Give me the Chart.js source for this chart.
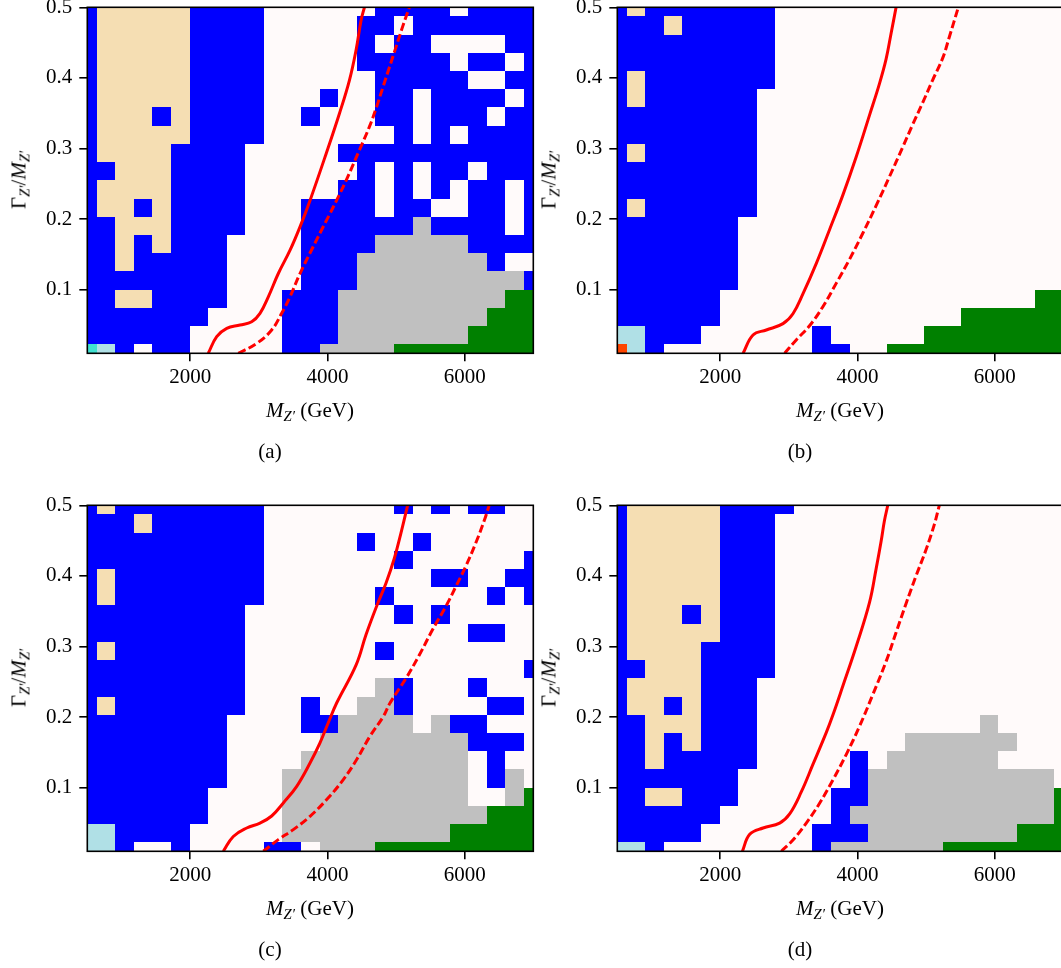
<!DOCTYPE html>
<html>
<head>
<meta charset="utf-8">
<script src="https://cdn.jsdelivr.net/npm/chart.js@4.4.0/dist/chart.umd.min.js"></script>
<style>
html, body { margin:0; padding:0; background:#fff; overflow:hidden; }
body { width:1061px; height:968px; position:relative; font-family:'Liberation Serif', serif; }
canvas { position:absolute; }
.lbl { position:absolute; font-size:21px; line-height:1; color:#000; white-space:nowrap; transform:translate(-50%,-50%); }
.lbl sub { font-size:70%; vertical-align:-0.3em; line-height:0; }
.yl { transform:translate(-50%,-50%) rotate(-90deg); }
</style>
</head>
<body>
<script>
// grid of the scan: Z' mass (GeV) and width/mass
var massGrid = [500, 770.83, 1041.67, 1312.5, 1583.33, 1854.17, 2125, 2395.83, 2666.67, 2937.5,
  3208.33, 3479.17, 3750, 4020.83, 4291.67, 4562.5, 4833.33, 5104.17, 5375, 5645.83,
  5916.67, 6187.5, 6458.33, 6729.17, 7000];
var widthGrid = [0.01, 0.03579, 0.06158, 0.08737, 0.11316, 0.13895, 0.16474, 0.19053, 0.21632, 0.24211,
  0.26789, 0.29368, 0.31947, 0.34526, 0.37105, 0.39684, 0.42263, 0.44842, 0.47421, 0.5];
var massTicks = [2000, 4000, 6000];
var widthTicks = [0.1, 0.2, 0.3, 0.4, 0.5];

// category of each cell, rows from top (0.5) to bottom (0.01)
var palette = {B:'#0000ff', T:'#f5deb3', W:'#fffafa', G:'#c0c0c0', N:'#008000', L:'#b0e0e6', Q:'#40e0d0', R:'#ff4500'};

var gridA = [
  "BTTTTTBBBBWWWWWWBBBBWBBBB",
  "BTTTTTBBBBWWWWWBBWBBBBBBB",
  "BTTTTTBBBBWWWWWBWBBWWWWBB",
  "BTTTTTBBBBWWWWWBBBBBWBBWB",
  "BTTTTTBBBBWWWWWWBBBBBWWBB",
  "BTTTTTBBBBWWWBWWBBWBBBBWB",
  "BTTTBTBBBBWWBWWWBBWBBBWBB",
  "BTTTTTBBBBWWWWWWWBWBWBBBB",
  "BTTTTBBBBWWWWWBBBBBBBBBBB",
  "BBTTTBBBBWWWWWWBWBWBBWBBB",
  "BTTTTBBBBWWWWWBBWBWBWBBWB",
  "BTTBTBBBBWWWBBBBWBBWWBBWB",
  "BBTTTBBBBWWWBBBBBBGBBBBWB",
  "BBTBTBBBWWWWBBBBGGGGGBBBB",
  "BBTBBBBBWWWWBBBGGGGGGGBWW",
  "BBBBBBBBWWWWBBBGGGGGGGGGB",
  "BBTTBBBBWWWBBBGGGGGGGGGNN",
  "BBBBBBBWWWWBBBGGGGGGGGNNN",
  "BBBBBBWWWWWBBBGGGGGGGNNNN",
  "QLBWBBWWWWWBBGGGGNNNNNNNN"
];
var gridB = [
  "BTBBBBBBBWWWWWWWWWWWWWWWW",
  "BBBTBBBBBWWWWWWWWWWWWWWWW",
  "BBBBBBBBBWWWWWWWWWWWWWWWW",
  "BBBBBBBBBWWWWWWWWWWWWWWWW",
  "BTBBBBBBBWWWWWWWWWWWWWWWW",
  "BTBBBBBBWWWWWWWWWWWWWWWWW",
  "BBBBBBBBWWWWWWWWWWWWWWWWW",
  "BBBBBBBBWWWWWWWWWWWWWWWWW",
  "BTBBBBBBWWWWWWWWWWWWWWWWW",
  "BBBBBBBBWWWWWWWWWWWWWWWWW",
  "BBBBBBBBWWWWWWWWWWWWWWWWW",
  "BTBBBBBBWWWWWWWWWWWWWWWWW",
  "BBBBBBBWWWWWWWWWWWWWWWWWW",
  "BBBBBBBWWWWWWWWWWWWWWWWWW",
  "BBBBBBBWWWWWWWWWWWWWWWWWW",
  "BBBBBBBWWWWWWWWWWWWWWWWWW",
  "BBBBBBWWWWWWWWWWWWWWWWWNN",
  "BBBBBBWWWWWWWWWWWWWNNNNNN",
  "LLBBBWWWWWWBWWWWWNNNNNNNN",
  "RLBWWWWWWWWBBWWNNNNNNNNNN"
];
var gridC = [
  "BTBBBBBBBBWWWWWWWBWBWBBWW",
  "BBBTBBBBBBWWWWWWWWWWWWWWW",
  "BBBBBBBBBBWWWWWBWWBWWWWWW",
  "BBBBBBBBBBWWWWWWWBWWWWWWB",
  "BTBBBBBBBBWWWWWWWWWBBWWBB",
  "BTBBBBBBBBWWWWWWBWWWWWBWB",
  "BBBBBBBBBWWWWWWWWBWBWWWWW",
  "BBBBBBBBBWWWWWWWWWWWWBBWW",
  "BTBBBBBBBWWWWWWWBWWWWWWWW",
  "BBBBBBBBBWWWWWWWWWWWWWWWB",
  "BBBBBBBBBWWWWWWWGBWWWBWWW",
  "BTBBBBBBBWWWBWWGGBWWWWBBW",
  "BBBBBBBBWWWWBBGGGGWGBBWWW",
  "BBBBBBBBWWWWWGGGGGGGGBBBW",
  "BBBBBBBBWWWWGGGGGGGGGWBWW",
  "BBBBBBBBWWWGGGGGGGGGGWBGW",
  "BBBBBBBWWWWGGGGGGGGGGWWGN",
  "BBBBBBBWWWWGGGGGGGGGGGNNN",
  "LLBBBBWWWWWGGGGGGGGGNNNNN",
  "LLBWWBWWWWBBWGGGNNNNNNNNN"
];
var gridD = [
  "BTTTTTBBBBWWWWWWWWWWWWWWW",
  "BTTTTTBBBWWWWWWWWWWWWWWWW",
  "BTTTTTBBBWWWWWWWWWWWWWWWW",
  "BTTTTTBBBWWWWWWWWWWWWWWWW",
  "BTTTTTBBBWWWWWWWWWWWWWWWW",
  "BTTTTTBBBWWWWWWWWWWWWWWWW",
  "BTTTBTBBBWWWWWWWWWWWWWWWW",
  "BTTTTTBBBWWWWWWWWWWWWWWWW",
  "BTTTTBBBBWWWWWWWWWWWWWWWW",
  "BBTTTBBBBWWWWWWWWWWWWWWWW",
  "BTTTTBBBWWWWWWWWWWWWWWWWW",
  "BTTBTBBBWWWWWWWWWWWWWWWWW",
  "BBTTTBBBWWWWWWWWWWWWGWWWW",
  "BBTBTBBBWWWWWWWWGGGGGGWWW",
  "BBTBBBBBWWWWWBWGGGGGGWWWW",
  "BBBBBBBWWWWWWBGGGGGGGGGGW",
  "BBTTBBBWWWWWBBGGGGGGGGGGN",
  "BBBBBBWWWWWWBGGGGGGGGGGGN",
  "BBBBBWWWWWWBBBGGGGGGGGNNN",
  "LLBWWWWWWWWBGGGGGGNNNNNNN"
];

// exclusion contours [mass, width/mass]
var solidA = [[2263,0.01],[2386,0.0335],[2532,0.0454],[2726,0.05],[2896,0.0547],[3017,0.0666],[3138,0.09],[3284,0.123],[3455,0.156],[3600,0.189],[3746,0.2265],[3982,0.293],[4176,0.35],[4321,0.397],[4418,0.44],[4491,0.482],[4539,0.5]];
var dashedA = [[2701,0.01],[2969,0.024],[3187,0.043],[3333,0.0666],[3454,0.09],[3600,0.123],[3746,0.152],[3916,0.185],[4037,0.208],[4135,0.227],[4273,0.255],[4467,0.298],[4612,0.331],[4709,0.357],[4806,0.386],[4903,0.415],[5000,0.444],[5097,0.473],[5194,0.5]];
var solidB = [[2333,0.01],[2478,0.036],[2672,0.043],[2915,0.052],[3060,0.066],[3205,0.094],[3399,0.137],[3593,0.185],[3787,0.234],[3981,0.288],[4175,0.347],[4321,0.392],[4418,0.427],[4490,0.463],[4563,0.5]];
var dashedB = [[2939,0.01],[3108,0.029],[3302,0.049],[3496,0.076],[3690,0.109],[3884,0.143],[4078,0.18],[4272,0.219],[4466,0.26],[4660,0.302],[4805,0.334],[4951,0.365],[5096,0.397],[5242,0.428],[5339,0.458],[5470,0.5]];
var solidC = [[2482,0.01],[2628,0.031],[2823,0.043],[3017,0.05],[3187,0.06],[3357,0.0785],[3552,0.102],[3746,0.135],[3891,0.1635],[4012,0.192],[4134,0.22],[4418,0.274],[4563,0.317],[4708,0.355],[4854,0.39],[4975,0.425],[5072,0.461],[5169,0.5]];
var dashedC = [[3065,0.01],[3284,0.0265],[3502,0.0407],[3746,0.0596],[3989,0.0832],[4231,0.1115],[4426,0.14],[4620,0.173],[4815,0.201],[4912,0.22],[5145,0.255],[5339,0.288],[5533,0.324],[5727,0.357],[5872,0.385],[6018,0.414],[6163,0.447],[6284,0.478],[6357,0.5]];
var solidD = [[2323,0.01],[2430,0.034],[2624,0.043],[2866,0.05],[3012,0.063],[3181,0.094],[3351,0.133],[3545,0.178],[3642,0.203],[3787,0.244],[3981,0.3],[4175,0.362],[4272,0.41],[4345,0.449],[4393,0.478],[4442,0.5]];
var dashedD = [[2890,0.01],[3060,0.026],[3254,0.05],[3448,0.078],[3642,0.111],[3836,0.147],[4030,0.187],[4224,0.232],[4418,0.279],[4563,0.32],[4709,0.361],[4854,0.4],[4999,0.437],[5121,0.473],[5193,0.5]];

var captions = ['(a)', '(b)', '(c)', '(d)'];

var panels = [
  {grid: gridA, solid: solidA, dashed: dashedA, left: 0,   top: 0},
  {grid: gridB, solid: solidB, dashed: dashedB, left: 530, top: 0},
  {grid: gridC, solid: solidC, dashed: dashedC, left: 0,   top: 498.4},
  {grid: gridD, solid: solidD, dashed: dashedD, left: 530, top: 498.4}
];

var W = 540, H = 420, PADTOP = 27.3;
var tickFont = {family: 'Liberation Serif', size: 21};

// paints the cells of the scan and the frame
var cellsPlugin = {
  id: 'cells',
  beforeDatasetsDraw: function (chart, args, opts) {
    var ctx = chart.ctx, a = chart.chartArea, xs = chart.scales.x, ys = chart.scales.y;
    var rows = opts.grid;
    ctx.save();
    ctx.beginPath(); ctx.rect(a.left, a.top, a.right - a.left, a.bottom - a.top); ctx.clip();
    for (var j = 0; j < widthGrid.length; j++) {
      var row = rows[rows.length - 1 - j];
      var lo = j === 0 ? widthGrid[0] : (widthGrid[j - 1] + widthGrid[j]) / 2;
      var hi = j === widthGrid.length - 1 ? widthGrid[j] : (widthGrid[j] + widthGrid[j + 1]) / 2;
      var y0 = Math.round(ys.getPixelForValue(lo)), y1 = Math.round(ys.getPixelForValue(hi));
      for (var k = 0; k < massGrid.length; k++) {
        var l = k === 0 ? massGrid[0] : (massGrid[k - 1] + massGrid[k]) / 2;
        var r = k === massGrid.length - 1 ? massGrid[k] : (massGrid[k] + massGrid[k + 1]) / 2;
        var x0 = Math.round(xs.getPixelForValue(l)), x1 = Math.round(xs.getPixelForValue(r));
        ctx.fillStyle = palette[row[k]];
        ctx.fillRect(x0, y1, x1 - x0, y0 - y1);
      }
    }
    ctx.restore();
  },
  afterDraw: function (chart) {
    var ctx = chart.ctx, a = chart.chartArea;
    ctx.save();
    ctx.strokeStyle = '#000';
    ctx.lineWidth = 1.6;
    ctx.strokeRect(a.left, a.top, a.right - a.left, a.bottom - a.top);
    ctx.restore();
  }
};

function toXY(pts) {
  return pts.map(function (p) { return {x: p[0], y: p[1]}; });
}

function addLabel(html, x, y, cls) {
  var d = document.createElement('div');
  d.className = 'lbl' + (cls ? ' ' + cls : '');
  d.style.left = x + 'px';
  d.style.top = y + 'px';
  d.innerHTML = html;
  document.body.appendChild(d);
}

panels.forEach(function (p, i) {
  var cv = document.createElement('canvas');
  cv.width = W; cv.height = H;
  cv.style.left = p.left + 'px';
  cv.style.top = (p.top - 20) + 'px';
  cv.style.width = W + 'px'; cv.style.height = H + 'px';
  document.body.appendChild(cv);

  new Chart(cv, {
    type: 'scatter',
    data: {
      datasets: [
        {data: toXY(p.solid), showLine: true, borderColor: '#ff0000', borderWidth: 3,
         pointRadius: 0, tension: 0.4},
        {data: toXY(p.dashed), showLine: true, borderColor: '#ff0000', borderWidth: 3,
         borderDash: [8, 3.5], pointRadius: 0, tension: 0.4}
      ]
    },
    options: {
      responsive: false,
      animation: false,
      devicePixelRatio: 1,
      layout: {padding: {left: 0, top: PADTOP, right: 6.7, bottom: 0}},
      plugins: {legend: {display: false}, tooltip: {enabled: false}, cells: {grid: p.grid}},
      scales: {
        x: {
          type: 'linear', min: 500, max: 7000,
          afterBuildTicks: function (s) { s.ticks = massTicks.map(function (v) { return {value: v}; }); },
          afterFit: function (s) { s.height = 46.7; },
          ticks: {color: '#000', font: tickFont, padding: 4, maxRotation: 0,
                  callback: function (v) { return String(v); }},
          grid: {drawOnChartArea: false, color: '#000', lineWidth: 1.6, tickLength: 8},
          border: {display: false}
        },
        y: {
          type: 'linear', min: 0.01, max: 0.5,
          afterBuildTicks: function (s) { s.ticks = widthTicks.map(function (v) { return {value: v}; }); },
          afterFit: function (s) { s.width = 87.3; },
          ticks: {color: '#000', font: tickFont, padding: 7,
                  callback: function (v) { return v.toFixed(1); }},
          grid: {drawOnChartArea: false, color: '#000', lineWidth: 1.6, tickLength: 8},
          border: {display: false}
        }
      }
    },
    plugins: [cellsPlugin]
  });

  addLabel('<i>M</i><sub><i>Z′</i></sub> (GeV)', p.left + 310, p.top + 410);
  addLabel('Γ<sub><i>Z′</i></sub>/<i>M</i><sub><i>Z′</i></sub>', p.left + 19, p.top + 180, 'yl');
  addLabel(captions[i], p.left + 270, p.top + 451);
});
</script>
</body>
</html>
